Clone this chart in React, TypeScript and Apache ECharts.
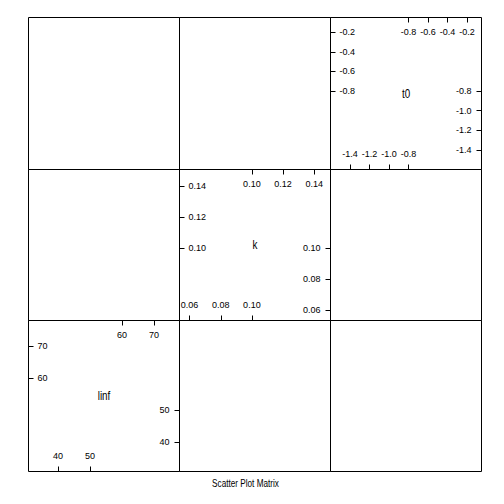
import React, { useEffect, useRef } from "react";
import * as echarts from "echarts";

// Variables shown on the diagonal, from bottom-left to top-right
const varNames = ["linf", "k", "t0"];
// Axis ranges of each variable
const varMin = [30.8, 0.0535, -1.6];
const varMax = [78.0, 0.1505, -0.05];
// Tick values at the low end (bottom / right axes) and high end (top / left axes)
const lowTicks = [[40, 50], [0.06, 0.08, 0.1], [-1.4, -1.2, -1.0, -0.8]];
const highTicks = [[60, 70], [0.1, 0.12, 0.14], [-0.8, -0.6, -0.4, -0.2]];
const labelDecimals = [0, 2, 1];
// Off-diagonal panels hold no points in the reference
const offDiagonalPoints: number[][] = [];
const xLabel = "Scatter Plot Matrix";

const colEdges = [28.5, 179.5, 330.5, 481.5];
const rowEdges = [17.5, 169.5, 320.5, 471.5];
const FONT = "'Liberation Sans', Arial, sans-serif";

export default function App() {
  const ref = useRef<HTMLDivElement>(null);
  useEffect(() => {
    if (!ref.current) return;
    const chart = echarts.init(ref.current, undefined, { renderer: "svg" });
    const n = varNames.length;
    const grids: any[] = [];
    const xAxes: any[] = [];
    const yAxes: any[] = [];
    const series: any[] = [];
    const graphics: any[] = [];
    for (let r = 0; r < n; r++) {
      for (let c = 0; c < n; c++) {
        const g = grids.length;
        const xv = c;
        const yv = n - 1 - r;
        const diag = xv === yv;
        grids.push({
          left: colEdges[c],
          top: rowEdges[r],
          width: colEdges[c + 1] - colEdges[c],
          height: rowEdges[r + 1] - rowEdges[r],
          show: true,
          borderColor: "#000",
          borderWidth: 1,
          backgroundColor: "transparent",
          containLabel: false,
        });
        const fmt = (d: number) => (v: number) => v.toFixed(d);
        const mkAxis = (position: string, v: number, ticks: number[], margin: number) => ({
          type: "value",
          gridIndex: g,
          position,
          min: varMin[v],
          max: varMax[v],
          show: diag,
          axisLine: { show: false },
          splitLine: { show: false },
          axisTick: {
            show: true,
            inside: true,
            length: 5,
            customValues: ticks,
            lineStyle: { color: "#000", width: 1 },
          },
          axisLabel: {
            show: true,
            inside: true,
            margin,
            customValues: ticks,
            formatter: fmt(labelDecimals[v]),
            color: "#000",
            fontSize: 9,
            lineHeight: 10,
            fontFamily: FONT,
          },
        });
        xAxes.push(mkAxis("bottom", xv, lowTicks[xv], 11));
        xAxes.push(mkAxis("top", xv, highTicks[xv], 9));
        yAxes.push(mkAxis("left", yv, highTicks[yv], 9));
        yAxes.push(mkAxis("right", yv, lowTicks[yv], 10));
        if (!diag) {
          series.push({
            type: "scatter",
            xAxisIndex: g * 2,
            yAxisIndex: g * 2,
            data: offDiagonalPoints,
            symbolSize: 4,
          });
        } else {
          graphics.push({
            type: "text",
            x: (colEdges[c] + colEdges[c + 1]) / 2,
            y: (rowEdges[r] + rowEdges[r + 1]) / 2,
            scaleX: 0.82,
            style: {
              text: varNames[xv],
              fill: "#000",
              font: `12px ${FONT}`,
              textAlign: "center",
              textVerticalAlign: "middle",
            },
          });
        }
      }
    }
    graphics.push({
      type: "text",
      x: 245.5,
      y: 483,
      scaleX: 0.78,
      style: {
        text: xLabel,
        fill: "#000",
        font: `10.5px ${FONT}`,
        textAlign: "center",
        textVerticalAlign: "middle",
      },
    });
    chart.setOption({
      animation: false,
      backgroundColor: "#fff",
      grid: grids,
      xAxis: xAxes,
      yAxis: yAxes,
      series,
      graphic: graphics,
    });
    return () => chart.dispose();
  }, []);
  return (
    <div
      ref={ref}
      style={{ position: "fixed", left: 0, top: 0, width: 504, height: 504 }}
    />
  );
}
